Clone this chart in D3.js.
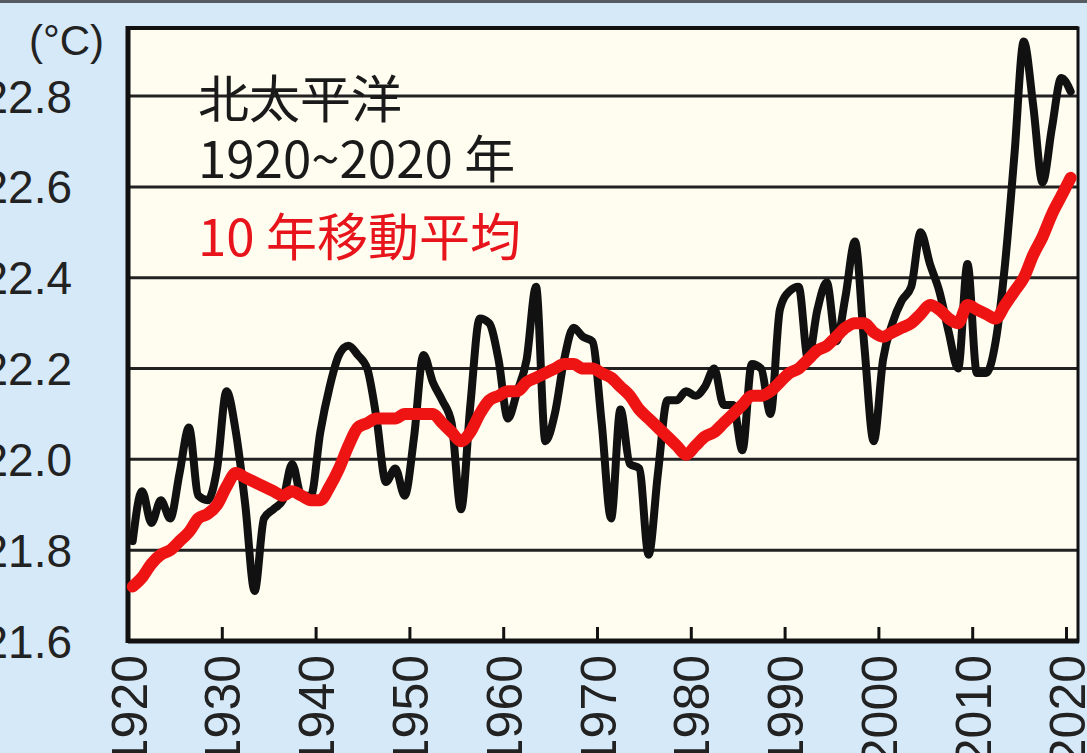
<!DOCTYPE html>
<html>
<head>
<meta charset="utf-8">
<script src="https://cdn.jsdelivr.net/npm/d3@7"></script>
<style>
    body { margin: 0; background: #d6e9f8; }
    svg { display: block; }
</style>
</head>
<body>
<div id="chart"></div>
<script>
// annual mean SST, North Pacific
var years = d3.range(1920, 2021);
var annualTemp = [
    21.82, 21.93, 21.86, 21.91, 21.87, 21.97, 22.07, 21.92, 21.91, 21.98,
    22.15, 22.06, 21.90, 21.71, 21.87, 21.89, 21.91, 21.99, 21.92, 21.92,
    22.06, 22.16, 22.23, 22.25, 22.23, 22.20, 22.09, 21.95, 21.98, 21.92,
    22.05, 22.23, 22.17, 22.13, 22.08, 21.89, 22.12, 22.31, 22.30, 22.22,
    22.09, 22.15, 22.22, 22.38, 22.04, 22.10, 22.22, 22.29, 22.27, 22.26,
    22.08, 21.87, 22.11, 21.99, 21.98, 21.79, 21.97, 22.13, 22.13, 22.15,
    22.14, 22.16, 22.20, 22.12, 22.12, 22.02, 22.21, 22.20, 22.10, 22.33,
    22.37, 22.38, 22.22, 22.33, 22.39, 22.26, 22.36, 22.48, 22.25, 22.04,
    22.22, 22.30, 22.35, 22.38, 22.50, 22.43, 22.37, 22.28, 22.20, 22.43,
    22.19, 22.19, 22.26, 22.43, 22.67, 22.92, 22.78, 22.61, 22.73, 22.84,
    22.81
];
// 10 year moving average
var movingAvg = [
    21.72, 21.74, 21.77, 21.79, 21.80, 21.82, 21.84, 21.87, 21.88, 21.90,
    21.94, 21.97, 21.96, 21.95, 21.94, 21.93, 21.92, 21.93, 21.92, 21.91,
    21.91, 21.94, 21.98, 22.03, 22.07, 22.08, 22.09, 22.09, 22.09, 22.10,
    22.10, 22.10, 22.10, 22.08, 22.06, 22.04, 22.06, 22.10, 22.13, 22.14,
    22.15, 22.15, 22.17, 22.18, 22.19, 22.20, 22.21, 22.21, 22.20, 22.20,
    22.19, 22.18, 22.16, 22.14, 22.11, 22.09, 22.07, 22.05, 22.03, 22.01,
    22.03, 22.05, 22.06, 22.08, 22.10, 22.12, 22.14, 22.14, 22.15, 22.17,
    22.19, 22.20, 22.22, 22.24, 22.25, 22.27, 22.29, 22.30, 22.30, 22.28,
    22.27, 22.28, 22.29, 22.30, 22.32, 22.34, 22.33, 22.31, 22.30, 22.34,
    22.33, 22.32, 22.31, 22.34, 22.37, 22.40, 22.45, 22.49, 22.54, 22.58,
    22.62
];
var yTicks = [21.6, 21.8, 22.0, 22.2, 22.4, 22.6, 22.8];
var xTicks = d3.range(1920, 2021, 10);
var labelLines = ["北太平洋", "1920~2020 年"];
var avgLabel = "10 年移動平均";

var width = 1087, height = 753;
var plot = {left: 128, right: 1078, top: 28, bottom: 641};

var svg = d3.select("#chart").append("svg")
    .attr("width", width)
    .attr("height", height);

svg.append("rect")
    .attr("width", width)
    .attr("height", height)
    .attr("fill", "#d6e9f8");

// thin dark border at the very top of the picture
svg.append("rect")
    .attr("width", width)
    .attr("height", 3)
    .attr("fill", "#555b60");

var xScale = d3.scaleLinear()
    .domain([1920, 2020])
    .range([plot.left, 1066]);

var yScale = d3.scaleLinear()
    .domain([21.6, 22.95])
    .range([plot.bottom, plot.top]);

svg.append("rect")
    .attr("x", plot.left)
    .attr("y", plot.top)
    .attr("width", plot.right - plot.left)
    .attr("height", plot.bottom - plot.top)
    .attr("fill", "#fffdf0");

// horizontal grid lines
svg.append("g")
    .selectAll("line")
    .data(yTicks.slice(1))
    .enter().append("line")
    .attr("x1", plot.left)
    .attr("x2", plot.right)
    .attr("y1", d => yScale(d))
    .attr("y2", d => yScale(d))
    .attr("stroke", "#222")
    .attr("stroke-width", 3);

// y axis labels
svg.append("g")
    .selectAll("text")
    .data(yTicks)
    .enter().append("text")
    .attr("x", 72)
    .attr("y", d => yScale(d))
    .attr("dy", "0.36em")
    .attr("text-anchor", "end")
    .attr("font-family", "'Liberation Sans Narrow', 'Liberation Sans', sans-serif")
    .attr("font-size", 46)
    .attr("fill", "#222")
    .text(d => d.toFixed(1));

svg.append("text")
    .attr("x", 104)
    .attr("y", 55)
    .attr("text-anchor", "end")
    .attr("font-family", "'Liberation Sans', sans-serif")
    .attr("font-size", 42)
    .attr("fill", "#222")
    .text("(°C)");

// x axis: ticks pointing up into the plot, rotated year labels
var xAxis = d3.axisBottom(xScale)
    .tickValues(xTicks)
    .tickSize(-14)
    .tickFormat(d3.format("d"));

var gx = svg.append("g")
    .attr("transform", "translate(0," + plot.bottom + ")")
    .call(xAxis);
gx.select(".domain").remove();
gx.selectAll(".tick line")
    .attr("stroke", "#111")
    .attr("stroke-width", 3);
gx.selectAll(".tick text")
    .attr("font-family", "'Liberation Sans Narrow', 'Liberation Sans', sans-serif")
    .attr("font-size", 50)
    .attr("fill", "#222")
    .attr("text-anchor", "end")
    .attr("transform", "rotate(-90)")
    .attr("x", -14)
    .attr("y", 0)
    .attr("dy", "0.36em");

// plot frame
svg.append("rect")
    .attr("x", plot.left)
    .attr("y", plot.top)
    .attr("width", plot.right - plot.left)
    .attr("height", plot.bottom - plot.top)
    .attr("fill", "none")
    .attr("stroke", "#111")
    .attr("stroke-width", 3);
svg.append("line")
    .attr("x1", plot.left).attr("x2", plot.left)
    .attr("y1", plot.top - 2).attr("y2", plot.bottom + 2)
    .attr("stroke", "#111").attr("stroke-width", 5);
svg.append("line")
    .attr("x1", plot.left).attr("x2", plot.right + 1)
    .attr("y1", plot.bottom).attr("y2", plot.bottom)
    .attr("stroke", "#111").attr("stroke-width", 5);
svg.append("line")
    .attr("x1", plot.left).attr("x2", plot.right)
    .attr("y1", plot.top).attr("y2", plot.top)
    .attr("stroke", "#111").attr("stroke-width", 4);

// text in the plot (drawn over the grid)
svg.append("g")
    .selectAll("text")
    .data(labelLines)
    .enter().append("text")
    .attr("x", 198)
    .attr("y", (d, i) => 118 + i * 60)
    .attr("font-family", "'Noto Sans CJK JP', sans-serif")
    .attr("font-size", 51)
    .attr("fill", "#1a1a1a")
    .text(d => d);

svg.append("text")
    .attr("x", 198)
    .attr("y", 256)
    .attr("font-family", "'Noto Sans CJK JP', sans-serif")
    .attr("font-size", 51)
    .attr("fill", "#e8141c")
    .text(avgLabel);

var line = d3.line()
    .x((d, i) => xScale(years[i] + 0.5))
    .y(d => yScale(d))
    .curve(d3.curveMonotoneX);

svg.append("path")
    .datum(annualTemp)
    .attr("d", line)
    .attr("fill", "none")
    .attr("stroke", "#111")
    .attr("stroke-width", 8)
    .attr("stroke-linejoin", "round")
    .attr("stroke-linecap", "round");

svg.append("path")
    .datum(movingAvg)
    .attr("d", line)
    .attr("fill", "none")
    .attr("stroke", "#ee1414")
    .attr("stroke-width", 12)
    .attr("stroke-linejoin", "round")
    .attr("stroke-linecap", "round");
</script>
</body>
</html>
